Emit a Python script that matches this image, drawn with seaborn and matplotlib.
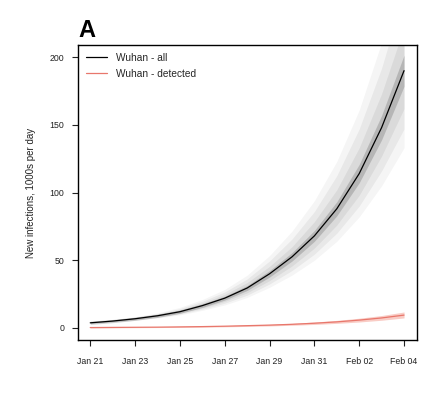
import numpy as np
import pandas as pd
import matplotlib
matplotlib.use('Agg')
import matplotlib.pyplot as plt
import seaborn as sns

# days since Jan 21
days = list(range(15))
tick_days = [0, 2, 4, 6, 8, 10, 12, 14]
tick_labels = ['Jan 21', 'Jan 23', 'Jan 25', 'Jan 27', 'Jan 29', 'Jan 31', 'Feb 02', 'Feb 04']

# Wuhan - all (median trajectory + spread of simulated trajectories)
all_mid = [3.8, 5.1, 6.8, 9.0, 12.0, 16.5, 22.0, 29.5, 40.0, 52.5, 68.0, 88.0, 114.0, 148.0, 190.0]
all_lo_outer = [3.2, 4.3, 5.6, 7.3, 9.6, 13.0, 17.0, 22.5, 30.0, 39.0, 50.0, 64.0, 82.0, 105.0, 133.0]
all_hi_outer = [4.5, 6.1, 8.3, 11.2, 15.2, 21.0, 28.5, 39.0, 53.5, 71.5, 94.0, 123.0, 161.0, 211.0, 274.0]
all_lo_mid = [3.35, 4.5, 5.9, 7.75, 10.25, 13.9, 18.3, 24.2, 32.5, 42.4, 54.5, 70.0, 90.0, 116.0, 147.0]
all_hi_mid = [4.3, 5.8, 7.9, 10.6, 14.3, 19.7, 26.6, 36.2, 49.5, 65.7, 86.0, 112.5, 147.0, 192.0, 248.0]
all_lo_inner = [3.5, 4.7, 6.2, 8.2, 10.9, 14.8, 19.6, 26.0, 35.0, 45.8, 59.0, 76.0, 98.0, 127.0, 162.0]
all_hi_inner = [4.1, 5.5, 7.5, 10.0, 13.4, 18.5, 24.8, 33.5, 45.5, 60.0, 78.5, 102.0, 133.0, 173.0, 222.0]
all_lo_core = [2.6, 3.9, 5.6, 7.8, 10.8, 15.2, 20.6, 27.7, 37.6, 49.4, 64.0, 82.8, 107.2, 139.0, 178.5]
all_hi_core = [5.0, 6.3, 8.0, 10.2, 13.2, 17.8, 23.4, 31.3, 42.4, 55.6, 72.0, 93.2, 120.8, 157.0, 201.5]

# Wuhan - detected
det_mid = [0.3, 0.4, 0.5, 0.6, 0.8, 1.0, 1.3, 1.7, 2.1, 2.7, 3.5, 4.5, 5.8, 7.4, 9.5]
det_lo = [0.0, 0.1, 0.2, 0.3, 0.45, 0.6, 0.85, 1.15, 1.5, 2.0, 2.6, 3.4, 4.4, 5.7, 7.4]
det_hi = [0.6, 0.7, 0.8, 0.9, 1.15, 1.4, 1.75, 2.25, 2.7, 3.4, 4.4, 5.6, 7.2, 9.2, 11.8]

df = pd.DataFrame({'day': days, 'all': all_mid, 'detected': det_mid})

sns.set_style('ticks')
plt.rcParams['font.family'] = ['Liberation Sans', 'DejaVu Sans']

fig = plt.figure(figsize=(4.39, 3.94), dpi=100)
ax = fig.add_axes([0.178, 0.137, 0.772, 0.749])

# spread of trajectories, layered so it fades outwards
ax.fill_between(days, all_lo_outer, all_hi_outer, color='#000000', alpha=0.04, lw=0)
ax.fill_between(days, all_lo_mid, all_hi_mid, color='#000000', alpha=0.05, lw=0)
ax.fill_between(days, all_lo_inner, all_hi_inner, color='#000000', alpha=0.06, lw=0)
ax.fill_between(days, all_lo_core, all_hi_core, color='#000000', alpha=0.16, lw=0)
ax.fill_between(days, det_lo, det_hi, color='#f08070', alpha=0.4, lw=0)

sns.lineplot(data=df, x='day', y='all', color='black', lw=0.9, ax=ax, label='Wuhan - all')
sns.lineplot(data=df, x='day', y='detected', color='#e8776c', lw=0.9, ax=ax, label='Wuhan - detected')

ax.set_xlim(-0.54, 14.58)
ax.set_ylim(-8.9, 209)
ax.set_xticks(tick_days)
ax.set_xticklabels(tick_labels)
ax.set_yticks([0, 50, 100, 150, 200])
ax.set_xlabel('')
ax.set_ylabel('New infections, 1000s per day', fontsize=7, color='#222222', labelpad=10)
ax.tick_params(labelsize=6.3, length=4, width=0.8, colors='#222222', pad=6)
ax.tick_params(axis='x', pad=8)

for s in ax.spines.values():
    s.set_visible(True)
    s.set_color('black')
    s.set_linewidth(1.0)

leg = ax.legend(loc='upper left', frameon=False, fontsize=7.3, handlelength=2.0,
                borderaxespad=0.4, labelspacing=0.55, handletextpad=0.9)

fig.text(0.178, 0.893, 'A', fontsize=17, fontweight='bold', color='black', ha='left', va='bottom')

fig.savefig('out.png', dpi=100)
